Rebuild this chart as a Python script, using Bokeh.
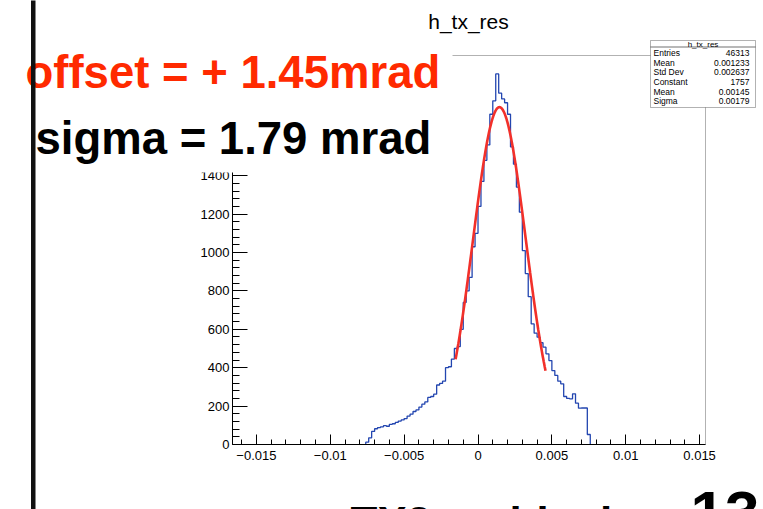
import numpy as np
from bokeh.plotting import figure
from bokeh.models import Label, BoxAnnotation, FixedTicker, CustomJSTickFormatter, Range1d
from bokeh.embed import file_html
from bokeh.resources import INLINE

# ---------------- data ----------------
bin_low = -0.0076
bin_width = 0.0002
counts = [12, 35, 68, 82, 88, 92, 98, 95, 105, 108,
          115, 122, 128, 135, 148, 158, 172, 180, 195, 210,
          222, 245, 250, 262, 310, 318, 330, 400, 405, 445,
          500, 510, 600, 740, 800, 870, 1030, 1100, 1240, 1370,
          1480, 1560, 1720, 1790, 1930, 1830, 1800, 1780, 1720, 1550,
          1460, 1340, 1210, 1010, 890, 770, 628, 580, 559, 530,
          507, 472, 437, 385, 360, 330, 316, 250, 240, 238,
          264, 215, 189, 190, 190, 52]
fit_constant = 1757
fit_mean = 0.00145
fit_sigma = 0.00179
fit_range = [-0.00152, 0.00457]
x_major_ticks = [-0.015, -0.01, -0.005, 0, 0.005, 0.01, 0.015]
x_minor_ticks = [round(-0.016 + 0.001 * i, 4) for i in range(32)]
y_major_ticks = [0, 200, 400, 600, 800, 1000, 1200, 1400, 1600, 1800, 2000]
y_minor_ticks = list(range(0, 2040, 40))
hist_title = "h_tx_res"
stat_title = "h_tx_res"
stat_names = ["Entries", "Mean", "Std Dev", "Constant", "Mean", "Sigma"]
stat_values = ["46313", "0.001233", "0.002637", "1757", "0.00145", "0.00179"]
offset_text = "offset = + 1.45mrad"
sigma_text = "sigma = 1.79 mrad"
footer_text = "TX2 residuals"
page_number = "13"

# ---------------- layout ----------------
W, H = 763, 509
FL, FR, FT, FB = 232, 705, 55, 444      # ROOT frame in pixels
X0, X1 = -0.01662, 0.01540              # ROOT frame x range
Y0, Y1 = 0, 2026                        # ROOT frame y range
FONT = "Liberation Sans"

def dx(px):
    return X0 + (px - FL) / (FR - FL) * (X1 - X0)

def dy(py):
    return Y0 + (FB - py) / (FB - FT) * (Y1 - Y0)

p = figure(width=W, height=H, title=None,
           x_range=Range1d(dx(0), dx(W)), y_range=Range1d(dy(H), dy(0)),
           output_backend="svg", toolbar_location=None,
           min_border=0, min_border_left=0, min_border_right=0,
           min_border_top=0, min_border_bottom=0)
p.background_fill_color = "white"
p.border_fill_color = "white"
p.outline_line_color = None
p.xgrid.visible = False
p.ygrid.visible = False

# ROOT frame box
p.add_layout(BoxAnnotation(left=X0, right=X1, bottom=Y0, top=Y1, fill_alpha=0,
                           line_color="black", line_width=1, level="underlay"))

# histogram outline
edges = [bin_low + bin_width * i for i in range(len(counts) + 1)]
xs = [edges[0]] + edges
ys = [0] + counts + [0]
p.step(xs, ys, mode="after", line_color="#2346b0", line_width=1.3)

# gaussian fit
xf = np.linspace(fit_range[0], fit_range[1], 200)
yf = fit_constant * np.exp(-0.5 * ((xf - fit_mean) / fit_sigma) ** 2)
p.line(xf, yf, line_color="#f2302a", line_width=2.6)

# axes, drawn at the ROOT frame edges
for ax in (p.xaxis[0], p.yaxis[0]):
    ax.axis_line_color = "black"
    ax.major_tick_line_color = "black"
    ax.minor_tick_line_color = "black"
    ax.major_tick_out = 0
    ax.minor_tick_out = 0
    ax.major_label_text_font = FONT
    ax.major_label_text_font_size = "13px"
    ax.major_label_text_color = "black"

p.xaxis.fixed_location = Y0
p.xaxis.bounds = (X0, X1)
p.xaxis.ticker = FixedTicker(ticks=x_major_ticks, minor_ticks=x_minor_ticks)
p.xaxis.formatter = CustomJSTickFormatter(code="""
const a = Math.abs(tick) < 1e-12 ? 0 : Math.abs(tick);
const s = a.toString();
return tick < -1e-12 ? "\u2212" + s : s;
""")
p.xaxis.major_tick_in = 10
p.xaxis.minor_tick_in = 5
p.xaxis.major_label_standoff = 6

p.yaxis.fixed_location = X0
p.yaxis.bounds = (Y0, Y1)
p.yaxis.ticker = FixedTicker(ticks=y_major_ticks, minor_ticks=y_minor_ticks)
p.yaxis.major_tick_in = 15
p.yaxis.minor_tick_in = 7
p.yaxis.major_label_standoff = 3

# histogram title
p.add_layout(Label(x=dx(468), y=dy(21), text=hist_title, text_align="center",
                   text_baseline="alphabetic", text_font=FONT, text_font_size="21px",
                   text_color="black", level="overlay"))

# white cover behind the slide texts
p.add_layout(BoxAnnotation(left=dx(22), right=dx(452), top=dy(40), bottom=dy(172),
                           fill_color="white", fill_alpha=1, line_alpha=0, level="overlay"))

# stats box
p.add_layout(BoxAnnotation(left=dx(650), right=dx(755), top=dy(40), bottom=dy(107),
                           fill_color="white", fill_alpha=1, line_color="black",
                           line_width=1, level="overlay"))
p.add_layout(BoxAnnotation(left=dx(650), right=dx(755), top=dy(46.5), bottom=dy(46.5),
                           fill_alpha=0, line_color="black", line_width=1, level="overlay"))
p.add_layout(Label(x=dx(702.5), y=dy(43.5), text=stat_title, text_align="center",
                   text_baseline="middle", text_font=FONT, text_font_size="8px",
                   text_color="black", level="overlay"))
for k, (nm, vl) in enumerate(zip(stat_names, stat_values)):
    yc = dy(52.5 + 9.65 * k)
    p.add_layout(Label(x=dx(653), y=yc, text=nm, text_align="left", text_baseline="middle",
                       text_font=FONT, text_font_size="8.5px", text_color="black",
                       level="overlay"))
    p.add_layout(Label(x=dx(749), y=yc, text=vl, text_align="right", text_baseline="middle",
                       text_font=FONT, text_font_size="8.5px", text_color="black",
                       level="overlay"))

# slide texts
p.add_layout(Label(x=dx(25), y=dy(72), text=offset_text, text_align="left",
                   text_baseline="alphabetic", text_font=FONT, text_font_size="45.5px",
                   text_font_style="bold", text_color="#ff2a00", level="overlay"))
p.add_layout(Label(x=dx(35), y=dy(138), text=sigma_text, text_align="left",
                   text_baseline="alphabetic", text_font=FONT, text_font_size="45.5px",
                   text_font_style="bold", text_color="black", level="overlay"))
p.add_layout(Label(x=dx(350), y=dy(522), text=footer_text, text_align="left",
                   text_baseline="alphabetic", text_font=FONT, text_font_size="44px",
                   text_font_style="bold", text_color="black", level="overlay"))
p.add_layout(Label(x=dx(690), y=dy(512), text=page_number, text_align="left",
                   text_baseline="alphabetic", text_font=FONT, text_font_size="62px",
                   text_font_style="bold", text_color="black", level="overlay"))

# vertical slide bar
p.add_layout(BoxAnnotation(left=dx(30.5), right=dx(35), top=dy(-10), bottom=dy(520),
                           fill_color="#111111", fill_alpha=1, line_alpha=0, level="overlay"))

open("out.html", "w").write(file_html(p, INLINE))
